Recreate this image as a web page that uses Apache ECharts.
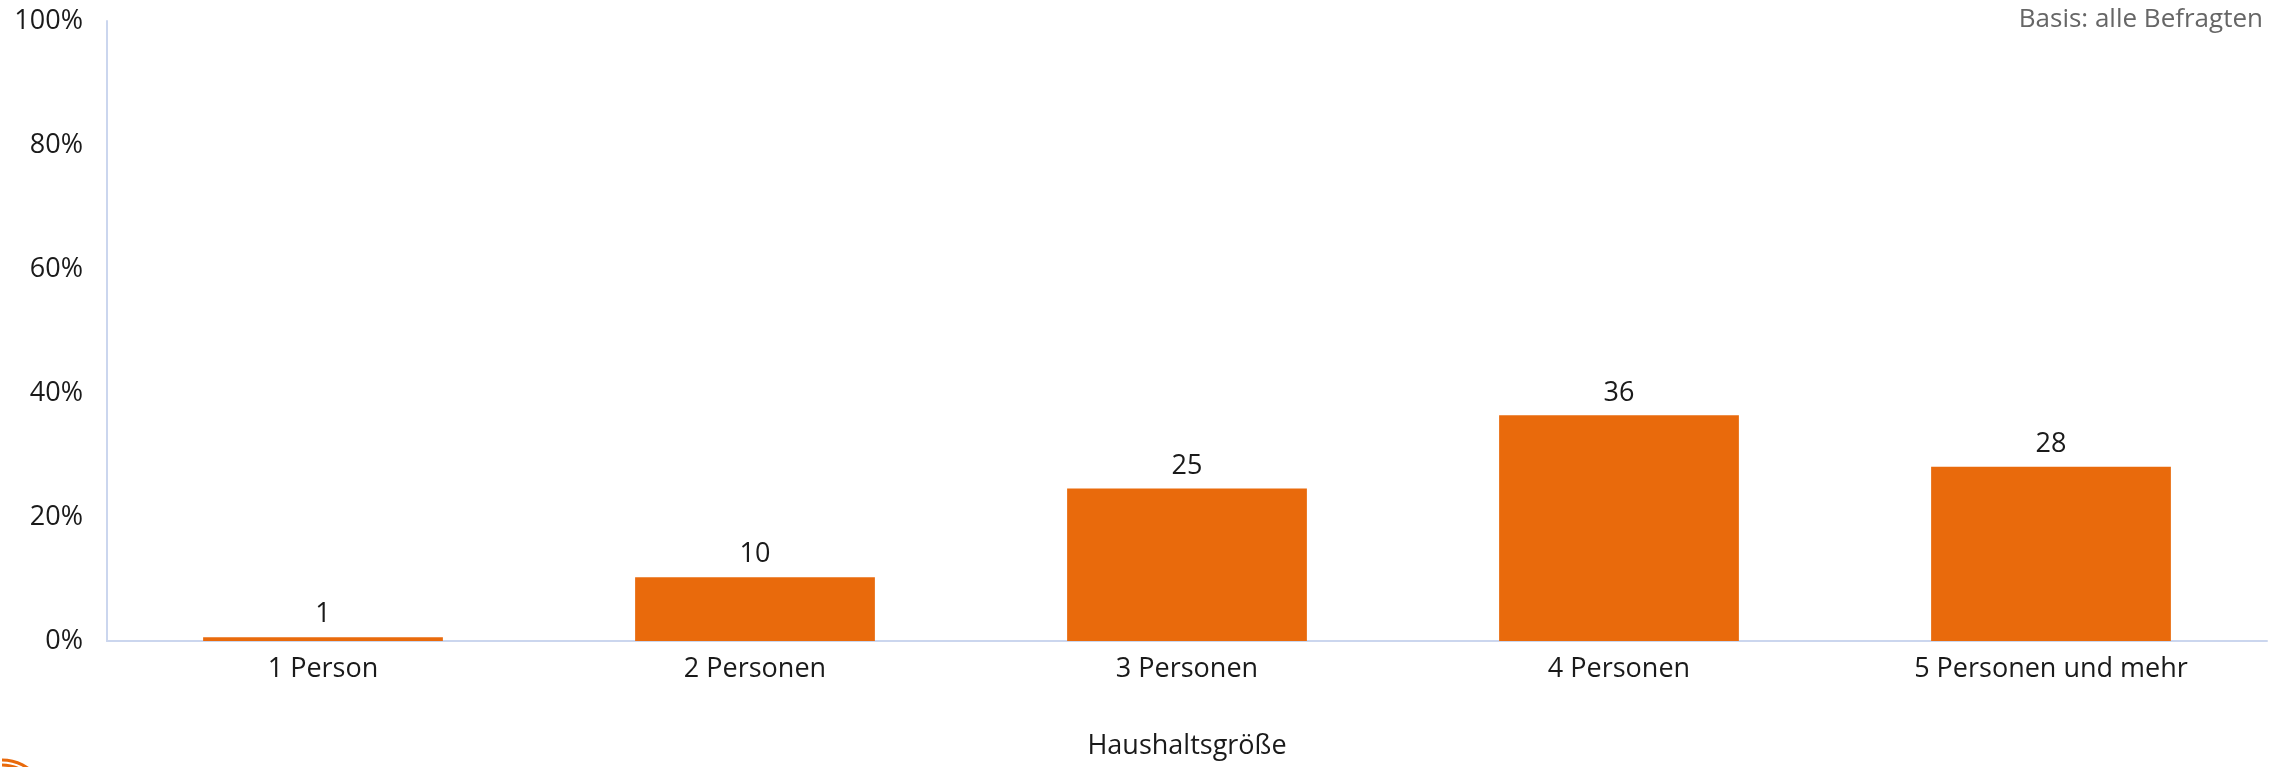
<!DOCTYPE html>
<html>
<head>
<meta charset="utf-8">
<script src="https://cdn.jsdelivr.net/npm/echarts@6/dist/echarts.min.js"></script>
<style>
html,body{margin:0;padding:0;background:#fff;}
#chart{width:2277px;height:767px;}
</style>
</head>
<body>
<div id="chart"></div>
<script>
const categories = ["1 Person", "2 Personen", "3 Personen", "4 Personen", "5 Personen und mehr"];
const values = [0.6, 10.3, 24.6, 36.4, 28.1];
const yTicks = { min: 0, max: 100, interval: 20 };
const axisTitle = "Haushaltsgröße";
const noteText = "Basis: alle Befragten";

const FONT = "'Open Sans', 'Noto Sans', sans-serif";
const chart = echarts.init(document.getElementById('chart'), null, { renderer: 'canvas' });
chart.setOption({
  animation: false,
  backgroundColor: '#ffffff',
  grid: { left: 107, right: 10, top: 21, bottom: 126, containLabel: false },
  xAxis: {
    type: 'category',
    data: categories,
    axisLine: { show: true, lineStyle: { color: '#CBD6EE', width: 2 } },
    axisTick: { show: false },
    axisLabel: { color: '#1a1a1a', fontSize: 27, fontFamily: FONT, margin: 15 },
    name: axisTitle,
    nameLocation: 'middle',
    nameGap: 92,
    nameTextStyle: { color: '#1a1a1a', fontSize: 27, fontFamily: FONT }
  },
  yAxis: {
    type: 'value',
    min: yTicks.min, max: yTicks.max, interval: yTicks.interval,
    axisLine: { show: true, lineStyle: { color: '#CBD6EE', width: 2 } },
    axisTick: { show: false },
    splitLine: { show: false },
    axisLabel: { color: '#1a1a1a', fontSize: 27, fontFamily: FONT, margin: 24, formatter: '{value}%' }
  },
  series: [{
    type: 'bar',
    data: values,
    barWidth: '55.5%',
    itemStyle: { color: '#E96A0C' },
    label: {
      show: true, position: 'top', distance: 9,
      color: '#1a1a1a', fontSize: 27, fontFamily: FONT,
      formatter: p => Math.round(p.value)
    }
  }],
  graphic: [
    { type: 'text', right: 14, top: 7, style: { text: noteText, fill: '#666666', fontSize: 26, fontFamily: FONT } },
    { type: 'arc', shape: { cx: 2, cy: 805, r: 45, startAngle: -Math.PI * 0.5, endAngle: -Math.PI * 0.2 }, style: { stroke: '#E96A0C', lineWidth: 3, fill: null } },
    { type: 'arc', shape: { cx: 2, cy: 805, r: 40, startAngle: -Math.PI * 0.5, endAngle: -Math.PI * 0.2 }, style: { stroke: '#E96A0C', lineWidth: 3, fill: null } }
  ]
});
</script>
</body>
</html>
